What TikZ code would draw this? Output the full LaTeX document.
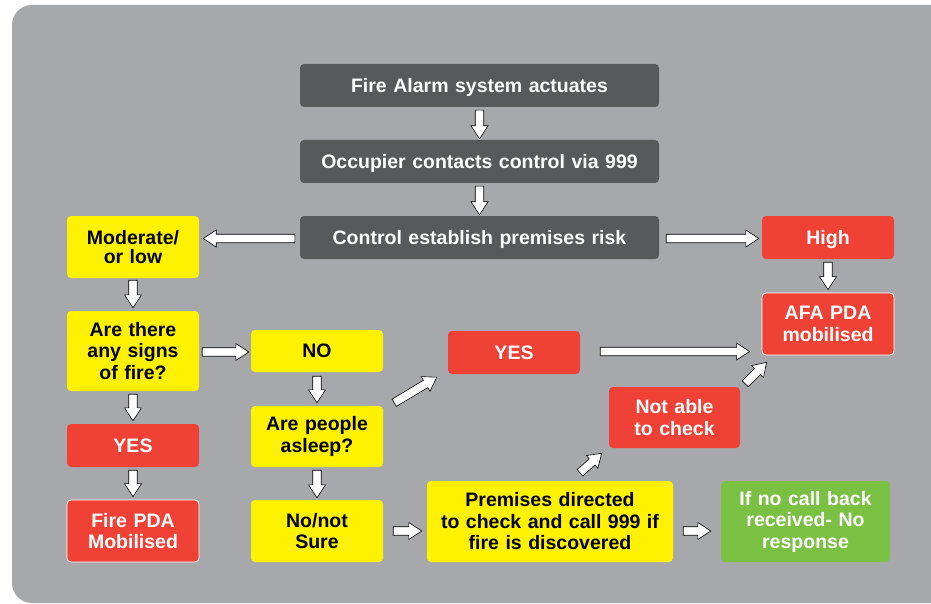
\documentclass[tikz,border=0pt]{standalone}
\usepackage{fontspec}
\setmainfont{Liberation Sans}
\usetikzlibrary{calc}

\definecolor{bggray}{HTML}{A7A8AC}
\definecolor{boxdark}{HTML}{58595B}
\definecolor{boxyellow}{HTML}{FFF200}
\definecolor{boxred}{HTML}{EF4136}
\definecolor{boxgreen}{HTML}{7AC143}

\tikzset{
  box/.style={rounded corners=4pt, inner sep=0pt, align=center,
    font=\fontsize{19.5}{21.5}\selectfont\bfseries},
  oneline/.style={text depth=0pt},
  darkbox/.style={box, oneline, fill=boxdark, text=white},
  yellowbox/.style={box, fill=boxyellow, text=black},
  redbox/.style={box, fill=boxred, text=white},
  greenbox/.style={box, fill=boxgreen, text=white},
  blockarrow/.style={fill=white, draw=black, line width=0.6pt, line join=miter},
}

% hollow block arrow from #1 to #2
\newcommand{\blockarrow}[2]{%
  \draw[blockarrow] let \p1=(#1), \p2=(#2),
    \n1={atan2(\y2-\y1,\x2-\x1)}, \n2={veclen(\x2-\x1,\y2-\y1)} in
    [shift={(\p1)}, rotate=\n1]
    (0pt,4.25pt) -- ({\n2-13pt},4.25pt) -- ({\n2-13pt},8.5pt) -- (\n2,0pt)
    -- ({\n2-13pt},-8.5pt) -- ({\n2-13pt},-4.25pt) -- (0pt,-4.25pt) -- cycle;
}

\begin{document}
\begin{tikzpicture}[x=1pt, y=-1pt]

\useasboundingbox (0,0) rectangle (931,604);
\clip (0,0) rectangle (931,604);

% background panel
\fill[bggray, rounded corners=20pt] (12,5) rectangle (960,603);

% control room column
\node[darkbox, text width=359pt, minimum height=43pt] (fire) at (479.5,85.5) {Fire Alarm system actuates};
\node[darkbox, text width=359pt, minimum height=43pt] (occ) at (479.5,161.5) {Occupier contacts control via 999};
\node[darkbox, text width=359pt, minimum height=43pt] (ctrl) at (479.5,237.5) {Control establish premises risk};

% risk levels
\node[yellowbox, text width=132pt, minimum height=62pt, font=\fontsize{19.5}{19}\selectfont\bfseries] (mod) at (133,247) {Moderate/\\or low};
\node[redbox, oneline, text width=132pt, minimum height=43pt] (high) at (828,237.5) {High};
\node[redbox, draw=white, line width=0.8pt, text width=132pt, minimum height=62pt] (afa) at (828,324) {AFA PDA\\mobilised};

% left column
\node[yellowbox, text width=132pt, minimum height=80pt] (signs) at (133,351) {Are there\\any signs\\of fire?};
\node[redbox, oneline, text width=132pt, minimum height=43pt] (yesl) at (133,445.5) {YES};
\node[redbox, draw=white, line width=0.8pt, text width=132pt, minimum height=62pt] (firepda) at (133,531) {Fire PDA\\Mobilised};

% middle column
\node[yellowbox, oneline, text width=132pt, minimum height=42pt] (no) at (317,351) {NO};
\node[yellowbox, text width=132pt, minimum height=61pt] (asleep) at (317,436.5) {Are people\\asleep?};
\node[yellowbox, text width=132pt, minimum height=62pt] (notsure) at (317,531) {No/not\\Sure};

% right part
\node[redbox, oneline, text width=132pt, minimum height=43pt] (yesm) at (514,352.5) {YES};
\node[redbox, text width=131pt, minimum height=61pt] (notable) at (674.5,417.5) {Not able\\to check};
\node[yellowbox, text width=246pt, minimum height=81pt] (prem) at (550,521.5) {Premises directed\\to check and call 999 if\\fire is discovered};
\node[greenbox, text width=169pt, minimum height=81pt] (green) at (805.5,521.5) {If no call back\\received- No\\response};

% arrows down the control column
\blockarrow{$(fire.south)+(0,3)$}{$(occ.north)+(0,-1)$}
\blockarrow{$(occ.south)+(0,3)$}{$(ctrl.north)+(0,-1)$}

% risk split
\blockarrow{$(ctrl.west)+(-5,1)$}{$(ctrl.west -| mod.east)+(4,1)$}
\blockarrow{$(ctrl.east)+(7,1)$}{$(high.west)+(-3,1)$}
\blockarrow{$(high.south)+(0,3)$}{$(afa.north)+(0,-3)$}

% left column arrows
\blockarrow{$(mod.south)+(0,2)$}{$(signs.north)+(0,-3)$}
\blockarrow{$(signs.south)+(0,3)$}{$(yesl.north)+(0,-3)$}
\blockarrow{$(yesl.south)+(0,3)$}{$(firepda.north)+(0,-3)$}
\blockarrow{$(signs.east)+(3,1)$}{$(no.west)+(-2,1)$}

% middle column arrows
\blockarrow{$(no.south)+(0,4)$}{$(asleep.north)+(0,-3)$}
\blockarrow{$(asleep.south)+(0,3)$}{$(notsure.north)+(0,-2)$}
\blockarrow{$(asleep.north east)+(11,-3)$}{$(yesm.south west)+(-11,3)$}
\blockarrow{$(notsure.east)+(10,0)$}{$(notsure.east -| prem.west)+(-5,0)$}

% right part arrows
\blockarrow{$(yesm.east)+(20,-1)$}{$(yesm.east -| afa.west)+(-12,-1)$}
\blockarrow{$(notable.north east)+(5,-3)$}{$(afa.south west)+(5,7)$}
\blockarrow{$(prem.north)+(30,-8)$}{$(notable.south west)+(-7,5)$}
\blockarrow{$(prem.east)+(10,9.5)$}{$(prem.east -| green.west)+(-10,9.5)$}

\end{tikzpicture}
\end{document}
